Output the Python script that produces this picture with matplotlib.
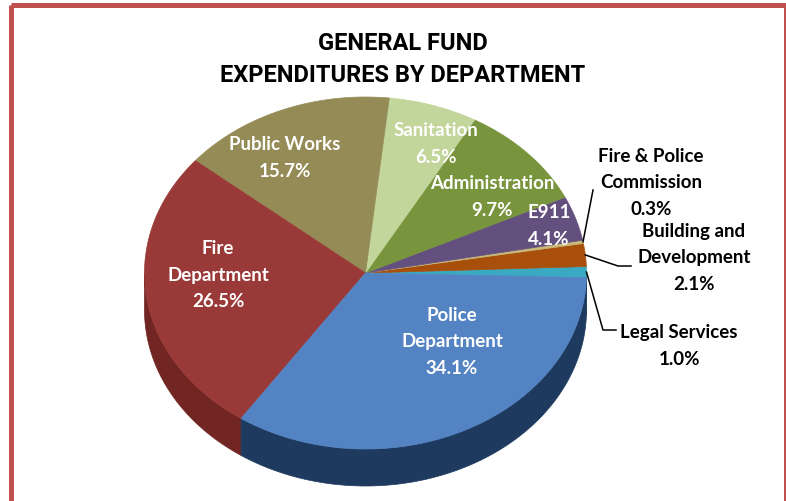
import numpy as np
import matplotlib.pyplot as plt
from matplotlib.patches import Polygon, Rectangle

# General fund spending shares (percent), counter-clockwise from 3 o'clock
departments = ['Legal Services', 'Building and\nDevelopment', 'Fire & Police\nCommission',
               'E911', 'Administration', 'Sanitation', 'Public Works',
               'Fire\nDepartment', 'Police\nDepartment']
shares = [1.0, 2.1, 0.3, 4.1, 9.7, 6.5, 15.7, 26.5, 34.1]

top_colors = ['#3aaac2', '#a84f0c', '#c8b87a', '#64507f', '#78943d',
              '#c2d69c', '#958b56', '#9a3a38', '#5383c2']
side_colors = ['#1f6a7a', '#6a3008', '#7d7048', '#3a2d4d', '#4a5c25',
               '#7a8a5e', '#5e5634', '#722624', '#1f3a5f']

# label centres in pixels, text colour
label_pos = [(679, 346, 'black'), (694, 258, 'black'), (651, 183, 'black'),
             (549, 226, 'white'), (492, 197, 'white'), (436, 144, 'white'),
             (285, 158, 'white'), (218, 275, 'white'), (452, 342, 'white')]

# leader line bends for the small outside slices
leaders = {0: [(603, 330), (616, 330)],
           1: [(618, 266), (631, 266)],
           2: [(593, 190)]}

# ellipse geometry of the tilted pie (pixels)
cx, cy, a, b, depth = 365.5, 273, 221, 176, 37
start = -1.5
line_step = 26.5

plt.rcParams['font.family'] = ['Lato', 'DejaVu Sans']

fig = plt.figure(figsize=(7.86, 5.01), dpi=100)
ax = fig.add_axes([0, 0, 1, 1])
ax.set_xlim(0, 786)
ax.set_ylim(501, 0)
ax.axis('off')


def edge(theta_deg):
    t = np.radians(theta_deg)
    return cx + a * np.cos(t), cy - b * np.sin(t)


bounds = start + np.concatenate([[0], np.cumsum(shares)]) * 3.6

# side wall of the front half
for i in range(len(shares)):
    t0, t1 = bounds[i], bounds[i + 1]
    for lo, hi in [(-180, 0), (180, 360)]:
        s, e = max(t0, lo), min(t1, hi)
        if e <= s:
            continue
        xs, ys = edge(np.linspace(s, e, 200))
        pts = np.column_stack([np.r_[xs, xs[::-1]], np.r_[ys, ys[::-1] + depth]])
        ax.add_patch(Polygon(pts, closed=True, facecolor=side_colors[i],
                             edgecolor=side_colors[i], lw=0.5))

# top faces
for i in range(len(shares)):
    th = np.linspace(bounds[i], bounds[i + 1], 200)
    xs, ys = edge(th)
    pts = np.column_stack([np.r_[cx, xs], np.r_[cy, ys]])
    ax.add_patch(Polygon(pts, closed=True, facecolor=top_colors[i],
                         edgecolor=top_colors[i], lw=0.5))

# labels, one text per line
for i, (name, val) in enumerate(zip(departments, shares)):
    x, y, col = label_pos[i]
    lines = name.split('\n') + [f'{val:.1f}%']
    y0 = y - line_step * (len(lines) - 1) / 2
    for k, line in enumerate(lines):
        ax.text(x, y0 + k * line_step, line, ha='center', va='center', color=col,
                fontsize=13.5, fontweight='bold')
    if i in leaders:
        mid = 0.5 * (bounds[i] + bounds[i + 1])
        pts = [edge(mid)] + leaders[i]
        ax.plot([p[0] for p in pts], [p[1] for p in pts], color='black', lw=1.1)

title_font = ['Roboto', 'DejaVu Sans']
ax.text(403, 43, 'GENERAL FUND', ha='center', va='center', fontsize=17,
        fontweight='bold', family=title_font)
ax.text(403, 75, 'EXPENDITURES BY DEPARTMENT', ha='center', va='center', fontsize=17,
        fontweight='bold', family=title_font)

# red frame around the chart
ax.add_patch(Rectangle((10.5, 5), 775, 500, fill=False, edgecolor='#c0504d', lw=3.6,
                       clip_on=False))

fig.savefig('out.png', dpi=100)
